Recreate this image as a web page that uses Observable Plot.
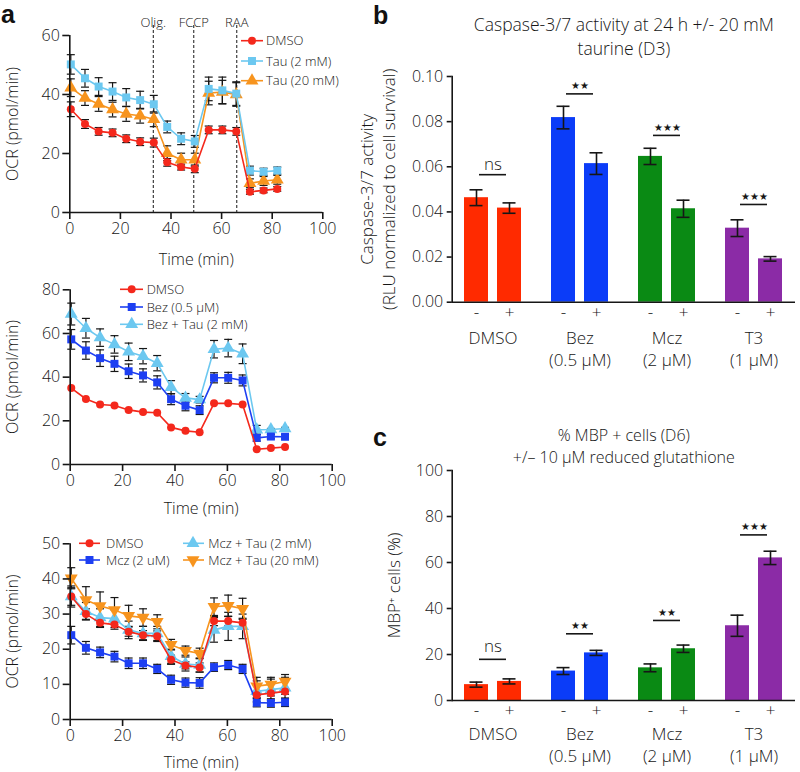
<!DOCTYPE html>
<html><head><meta charset="utf-8">
<script src="https://cdn.jsdelivr.net/npm/d3@7"></script>
<script src="https://cdn.jsdelivr.net/npm/@observablehq/plot@0.6"></script>
<style>
body{margin:0;background:#fff;font-family:"Open Sans",sans-serif;color:#1a1a1a}
#root{position:relative;width:800px;height:772px;overflow:hidden;background:#fff}
.abs{position:absolute}
</style></head><body><div id="root"></div><script>
// ---------- Panel a data ----------
const times = [0.4, 6, 11.4, 16.9, 22.3, 27.8, 33.2, 38.5, 44, 49.4, 54.9, 60.3, 65.8, 71.2, 76.6, 82];
const injections = [33, 49, 66];
const injectionLabels = ["Olig.", "FCCP", "RAA"];
const xTicksA = [0, 20, 40, 60, 80, 100];

const dmso     = [35, 30, 27.5, 27, 25, 24, 23.7, 17, 15.4, 14.8, 28, 28, 27.5, 7, 7.5, 8];
const dmsoErr  = [2.5, 1.5, 1.3, 1.3, 1.3, 1.3, 1.5, 1.3, 1.0, 1.3, 1.3, 1.3, 1.3, 0.8, 0.8, 0.8];
const tau2     = [50.2, 45.5, 42.7, 41, 39, 38.1, 36.7, 29, 25, 24.1, 41.9, 41.4, 40.3, 14.2, 13.8, 14.2];
const tau2Err  = [3.3, 3, 3, 3, 3, 3, 3, 2, 2, 2, 4, 4.5, 4, 1.5, 1.2, 1.2];
const tau20    = [42.3, 38.8, 36.8, 34.9, 33.4, 32.8, 31.6, 20.1, 17.9, 17.9, 40.5, 40.8, 40, 9.9, 10.7, 11.1];
const tau20Err = [3, 2.5, 2.5, 2.5, 2.5, 2.5, 2.5, 2.5, 2.2, 2.2, 4, 4, 4, 1.5, 1.5, 1.5];

const bez       = [57.3, 52.2, 48.7, 46.1, 42.7, 40.8, 37.6, 29.9, 26.9, 24.9, 39.7, 39.7, 38.5, 12.2, 12.8, 12.7];
const bezErr    = [4.5, 4, 3.8, 3.5, 3.3, 3, 3, 2.5, 2.3, 2, 2.3, 2.5, 2.5, 1.5, 1, 1];
const bezTau    = [68.9, 62.4, 58.1, 55, 51.6, 49.6, 46.4, 35.4, 30.5, 29.7, 52.8, 53.3, 50.7, 15.9, 16, 16.5];
const bezTauErr = [5, 4.5, 4, 4, 4, 3.5, 3.5, 3, 2, 1.5, 4, 4, 4.5, 2, 0.5, 0.5];

const mcz        = [24, 20.4, 19.1, 17.9, 16, 16, 14.4, 11.3, 10.5, 10.4, 14.9, 15.5, 14.4, 4.8, 4.7, 4.9];
const mczErr     = [2.5, 1.8, 1.5, 1.5, 1.5, 1.5, 1.3, 1.3, 1.3, 1.5, 1.2, 1.3, 1.3, 1.2, 1.2, 1.2];
const mczTau2    = [35, 30.8, 29, 28.7, 25.5, 24.5, 24.5, 18, 15.8, 15.5, 25.5, 26.5, 26.5, 8, 8.5, 9];
const mczTau2Err = [3, 2.5, 2.5, 2.5, 2.5, 2, 2, 2, 2, 2, 3.5, 4, 3.5, 3, 3, 3];
const mczTau20   = [40.2, 34, 32.3, 31.2, 29.5, 29, 27.8, 21.3, 19.6, 18.8, 32.1, 32.4, 31.5, 9.5, 10, 10.8];
const mczTau20Err= [3, 3.8, 4, 3.5, 3, 2.5, 2, 1.5, 1.3, 1.5, 2.5, 3, 3, 2.5, 2, 2];

// ---------- Panels b & c data ----------
const groups = ["DMSO", "Bez", "Mcz", "T3"];
const groupLabels = ["DMSO", "Bez\n(0.5 μM)", "Mcz\n(2 μM)", "T3\n(1 μM)"];
const barColors = ["#ff2a00", "#0b3cf8", "#0a8a14", "#8b2ba6"];

const casMinus    = [0.0463, 0.0818, 0.0646, 0.0328];
const casMinusErr = [0.0035, 0.0050, 0.0036, 0.0037];
const casPlus     = [0.0417, 0.0614, 0.0414, 0.0192];
const casPlusErr  = [0.0023, 0.0048, 0.0038, 0.0010];
const casSig      = ["ns", "★★", "★★★", "★★★"];
const casSigY     = [0.0565, 0.0923, 0.0739, 0.0433];

const mbpMinus    = [6.9, 12.8, 14.2, 32.5];
const mbpMinusErr = [1.1, 1.5, 1.7, 4.6];
const mbpPlus     = [8.3, 20.7, 22.5, 62];
const mbpPlusErr  = [1.1, 1.1, 1.6, 2.9];
const mbpSig      = ["ns", "★★", "★★", "★★★"];
const mbpSigY     = [17.9, 29, 34.8, 72];

// ---------- colours & symbols ----------
const RED = "#f4281c", LBLUE = "#6cc8f0", ORANGE = "#f7941e", BLUE = "#1d3ff2";
const sqrt3 = Math.sqrt(3);
const triangleDown = {draw(ctx, size) {
  const y = -Math.sqrt(size / (sqrt3 * 3));
  ctx.moveTo(0, -y * 2); ctx.lineTo(-sqrt3 * y, y); ctx.lineTo(sqrt3 * y, y); ctx.closePath();
}};
const capSymbol = {draw(ctx, size) {
  const r = Math.sqrt(size / Math.PI);
  ctx.moveTo(-r, 0); ctx.lineTo(r, 0);
}};
const SYM = {circle: d3.symbolCircle, square: d3.symbolSquare, triangle: d3.symbolTriangle, triangleDown};
const SYMR = {circle: 4, square: 4.5, triangle: 4.8, triangleDown: 4.8};

const FONT = "Open Sans";
const WEIGHT = 300;
const INK = "#161616";
const root = document.getElementById("root");
function place(node, left, top) {
  node.classList.add("abs");
  node.style.left = left + "px"; node.style.top = top + "px";
  root.appendChild(node);
}

// ---------- line panels ----------
function linePanel(cfg) {
  const marks = [];
  if (cfg.injections) {
    const inj = injections.map((t, i) => ({t, label: injectionLabels[i]}));
    marks.push(Plot.ruleX(inj, {x: "t", stroke: INK, strokeWidth: 1, strokeDasharray: "3,2", insetTop: -10}));
    marks.push(Plot.text(inj, {x: "t", text: "label", frameAnchor: "top", lineAnchor: "middle", dy: -13, fontSize: 13, fill: INK}));
  }
  const rowsOf = s => times.map((t, i) => ({t, v: s.values[i], e: s.errs ? s.errs[i] : 0}));
  for (const s of cfg.series) {
    if (!s.errs) continue;
    const rows = rowsOf(s);
    marks.push(Plot.ruleX(rows, {x: "t", y1: d => d.v - d.e, y2: d => d.v + d.e, stroke: INK, strokeWidth: 1.2}));
    marks.push(Plot.dot(rows, {x: "t", y: d => d.v + d.e, symbol: capSymbol, r: 4, stroke: INK, strokeWidth: 1.2, fill: "none"}));
    marks.push(Plot.dot(rows, {x: "t", y: d => d.v - d.e, symbol: capSymbol, r: 4, stroke: INK, strokeWidth: 1.2, fill: "none"}));
  }
  for (const s of cfg.series) {
    const rows = rowsOf(s);
    marks.push(Plot.line(rows, {x: "t", y: "v", stroke: s.color, strokeWidth: 1.6}));
    marks.push(Plot.dot(rows, {x: "t", y: "v", symbol: SYM[s.symbol], r: SYMR[s.symbol], fill: s.color, stroke: "none"}));
  }
  marks.push(
    Plot.ruleX([0], {stroke: INK, strokeWidth: 1.6}),
    Plot.ruleY([0], {stroke: INK, strokeWidth: 1.6}),
    Plot.axisX(xTicksA, {tickSize: 7, tickPadding: 3, strokeWidth: 1.6, label: null, fill: INK, stroke: INK, fontSize: 16}),
    Plot.axisY(cfg.yTicks, {tickSize: 7, tickPadding: 3, strokeWidth: 1.6, label: null, fill: INK, stroke: INK, fontSize: 16}),
    Plot.text(["Time (min)"], {text: d => d, frameAnchor: "bottom", lineAnchor: "middle", dy: cfg.xLabelDy, fontSize: 16, fill: INK}),
    Plot.text(["OCR (pmol/min)"], {text: d => d, frameAnchor: "left", textAnchor: "middle", lineAnchor: "middle", rotate: -90, dx: cfg.yLabelDx, fontSize: 16, fill: INK})
  );
  return Plot.plot({
    width: cfg.width, height: cfg.height,
    marginLeft: cfg.marginLeft, marginRight: cfg.marginRight,
    marginTop: cfg.marginTop, marginBottom: cfg.marginBottom,
    style: {fontFamily: FONT, fontSize: "16px", fontWeight: WEIGHT, color: INK, background: "transparent", overflow: "visible"},
    x: {domain: [0, 100], label: null},
    y: {domain: [0, cfg.yMax], label: null},
    marks
  });
}

function legend(items, left, top, width, height) {
  const svg = d3.create("svg").attr("width", width).attr("height", height)
    .style("overflow", "visible").style("font-family", FONT).style("font-size", "13px").style("font-weight", WEIGHT);
  for (const it of items) {
    const g = svg.append("g");
    g.append("line").attr("x1", it.x0 - left).attr("x2", it.x1 - left)
      .attr("y1", it.y - top).attr("y2", it.y - top).attr("stroke", it.color).attr("stroke-width", 1.6);
    const r = SYMR[it.symbol];
    g.append("path").attr("d", d3.symbol(SYM[it.symbol], Math.PI * r * r)())
      .attr("transform", `translate(${it.cx - left},${it.y - top})`).attr("fill", it.color);
    g.append("text").attr("x", it.tx - left).attr("y", it.y - top).attr("dy", "0.35em")
      .attr("fill", INK).text(it.label);
  }
  place(svg.node(), left, top);
}

// top panel a
place(linePanel({
  width: 360, height: 270, marginLeft: 69.3, marginRight: 37.7, marginTop: 35, marginBottom: 58,
  yMax: 60, yTicks: [0, 20, 40, 60], injections: true, xLabelDy: 47, yLabelDx: -57,
  series: [
    {values: tau20, errs: tau20Err, color: ORANGE, symbol: "triangle"},
    {values: tau2, errs: tau2Err, color: LBLUE, symbol: "square"},
    {values: dmso, errs: dmsoErr, color: RED, symbol: "circle"}
  ]
}), 0, 0);
legend([
  {label: "DMSO", color: RED, symbol: "circle", x0: 241, x1: 263, cx: 252, tx: 266, y: 40.7},
  {label: "Tau (2 mM)", color: LBLUE, symbol: "square", x0: 241, x1: 263, cx: 252, tx: 266, y: 61},
  {label: "Tau (20 mM)", color: ORANGE, symbol: "triangle", x0: 241, x1: 263, cx: 252, tx: 266, y: 80.7}
], 236, 30, 130, 60);

// middle panel a
place(linePanel({
  width: 360, height: 250, marginLeft: 69.7, marginRight: 28.3, marginTop: 19.3, marginBottom: 56,
  yMax: 80, yTicks: [0, 20, 40, 60, 80], injections: false, xLabelDy: 44, yLabelDx: -57,
  series: [
    {values: bezTau, errs: bezTauErr, color: LBLUE, symbol: "triangle"},
    {values: bez, errs: bezErr, color: BLUE, symbol: "square"},
    {values: dmso, errs: null, color: RED, symbol: "circle"}
  ]
}), 0, 270);
legend([
  {label: "DMSO", color: RED, symbol: "circle", x0: 120, x1: 143, cx: 131.7, tx: 146.7, y: 289.3},
  {label: "Bez (0.5 μM)", color: BLUE, symbol: "square", x0: 120, x1: 143, cx: 131.7, tx: 146.7, y: 307},
  {label: "Bez +  Tau (2 mM)", color: LBLUE, symbol: "triangle", x0: 120, x1: 143, cx: 131.7, tx: 146.7, y: 324.3}
], 115, 280, 150, 55);

// bottom panel a
place(linePanel({
  width: 360, height: 252, marginLeft: 69.7, marginRight: 28.3, marginTop: 23.3, marginBottom: 53,
  yMax: 50, yTicks: [0, 10, 20, 30, 40, 50], injections: false, xLabelDy: 43, yLabelDx: -57,
  series: [
    {values: mczTau2, errs: mczTau2Err, color: LBLUE, symbol: "triangle"},
    {values: mczTau20, errs: mczTau20Err, color: ORANGE, symbol: "triangleDown"},
    {values: mcz, errs: mczErr, color: BLUE, symbol: "square"},
    {values: dmso, errs: dmsoErr, color: RED, symbol: "circle"}
  ]
}), 0, 520);
legend([
  {label: "DMSO", color: RED, symbol: "circle", x0: 79, x1: 100, cx: 89.5, tx: 106, y: 543.3},
  {label: "Mcz (2 uM)", color: BLUE, symbol: "square", x0: 79, x1: 100, cx: 89.5, tx: 106, y: 560},
  {label: "Mcz + Tau (2 mM)", color: LBLUE, symbol: "triangle", x0: 183, x1: 204, cx: 193, tx: 208.3, y: 543.3},
  {label: "Mcz + Tau (20 mM)", color: ORANGE, symbol: "triangleDown", x0: 183, x1: 204, cx: 193, tx: 208.3, y: 560}
], 75, 535, 260, 35);

// ---------- bar panels ----------
function barPanel(cfg) {
  const minusRows = groups.map((g, i) => ({g, v: cfg.minus[i], e: cfg.minusErr[i]}));
  const plusRows = groups.map((g, i) => ({g, v: cfg.plus[i], e: cfg.plusErr[i]}));
  const sigRows = groups.map((g, i) => ({g, s: cfg.sig[i], y: cfg.sigY[i]}));
  const labelRows = groups.map((g, i) => ({g, label: groupLabels[i]}));
  const errMarks = (rows, dx, capL, capR) => [
    Plot.ruleX(rows, {x: "g", y1: d => d.v - d.e, y2: d => d.v + d.e, dx, stroke: INK, strokeWidth: 1.6}),
    Plot.tickY(rows, {x: "g", y: d => d.v + d.e, insetLeft: capL, insetRight: capR, stroke: INK, strokeWidth: 1.6}),
    Plot.tickY(rows, {x: "g", y: d => d.v - d.e, insetLeft: capL, insetRight: capR, stroke: INK, strokeWidth: 1.6})
  ];
  return Plot.plot({
    width: 430, height: cfg.height,
    marginLeft: 81.7, marginRight: 5, marginTop: cfg.marginTop, marginBottom: cfg.marginBottom,
    style: {fontFamily: FONT, fontSize: "16px", fontWeight: WEIGHT, color: INK, background: "transparent", overflow: "visible"},
    x: {domain: groups, paddingInner: 0.345, paddingOuter: 0.144, axis: null, label: null},
    y: {domain: [0, cfg.yMax], label: null},
    color: {domain: groups, range: barColors},
    marks: [
      Plot.barY(minusRows, {x: "g", y: "v", fill: "g", insetRight: 33}),
      Plot.barY(plusRows, {x: "g", y: "v", fill: "g", insetLeft: 33}),
      ...errMarks(minusRows, -16.5, 5.5, 38.5),
      ...errMarks(plusRows, 16.5, 38.5, 5.5),
      Plot.tickY(sigRows, {x: "g", y: "y", insetLeft: 15, insetRight: 15, stroke: INK, strokeWidth: 1.6}),
      Plot.text(sigRows, {filter: d => d.s === "ns", x: "g", y: "y", text: "s", dy: cfg.nsDy, fontSize: 17, fill: INK}),
      Plot.text(sigRows, {filter: d => d.s !== "ns", x: "g", y: "y", text: "s", dy: -7.5, fontSize: 9.5, fontFamily: "DejaVu Sans", fill: INK}),
      Plot.text(minusRows, {x: "g", text: () => "-", frameAnchor: "bottom", lineAnchor: "middle", dx: -16.5, dy: cfg.pmDy, fontSize: 17, fill: INK}),
      Plot.text(plusRows, {x: "g", text: () => "+", frameAnchor: "bottom", lineAnchor: "middle", dx: 16.5, dy: cfg.pmDy, fontSize: 17, fill: INK}),
      Plot.text(labelRows, {x: "g", text: "label", frameAnchor: "bottom", lineAnchor: "top", dy: cfg.groupDy, lineHeight: 1.27, fontSize: 17, fill: INK}),
      Plot.ruleY([0], {stroke: INK, strokeWidth: 1.6}),
      Plot.frame({anchor: "left", stroke: INK, strokeWidth: 1.6}),
      Plot.axisY(cfg.yTicks, {tickSize: 5, tickPadding: 4, tickFormat: cfg.yFormat, strokeWidth: 1.6, label: null, fill: INK, stroke: INK, fontSize: 16}),
      Plot.text([cfg.title], {text: d => d, frameAnchor: "top", lineAnchor: "middle", dy: cfg.titleDy, lineHeight: cfg.titleLH, fontSize: cfg.titleSize, fill: INK}),
      Plot.text([cfg.ylabel], {text: d => d, frameAnchor: "left", textAnchor: "middle", lineAnchor: "middle", rotate: -90, dx: cfg.ylabelDx, lineHeight: 1.3, fontSize: 17, fill: INK})
    ]
  });
}

place(barPanel({
  minus: casMinus, minusErr: casMinusErr, plus: casPlus, plusErr: casPlusErr, sig: casSig, sigY: casSigY,
  yMax: 0.10, yTicks: [0, 0.02, 0.04, 0.06, 0.08, 0.10], yFormat: d3.format(".2f"),
  height: 380, marginTop: 76, marginBottom: 78.3, nsDy: -10, pmDy: 10.5, groupDy: 26.5,
  title: "Caspase-3/7 activity at 24 h +/- 20 mM\ntaurine (D3)", titleDy: -41, titleLH: 1.37, titleSize: 17.5,
  ylabel: "Caspase-3/7 activity\n(RLU normalized to cell survival)", ylabelDx: -75.5
}), 370, 0);

place(barPanel({
  minus: mbpMinus, minusErr: mbpMinusErr, plus: mbpPlus, plusErr: mbpPlusErr, sig: mbpSig, sigY: mbpSigY,
  yMax: 100, yTicks: [0, 20, 40, 60, 80, 100], yFormat: d3.format("d"),
  height: 372, marginTop: 70, marginBottom: 72, nsDy: -13, pmDy: 10, groupDy: 24.2,
  title: "% MBP + cells (D6)\n+/– 10 μM reduced glutathione", titleDy: -25.3, titleLH: 1.37, titleSize: 16,
  ylabel: "MBP⁺ cells (%)", ylabelDx: -59
}), 370, 400);

// panel letters
const letters = d3.create("svg").attr("width", 800).attr("height", 772)
  .style("pointer-events", "none").style("font-family", "Liberation Sans").style("font-weight", "bold").style("font-size", "25px");
for (const [t, x, y] of [["a", 1, 23], ["b", 373, 24], ["c", 373, 446]]) {
  letters.append("text").attr("x", x).attr("y", y).attr("fill", "#111").text(t);
}
place(letters.node(), 0, 0);
</script></body></html>
